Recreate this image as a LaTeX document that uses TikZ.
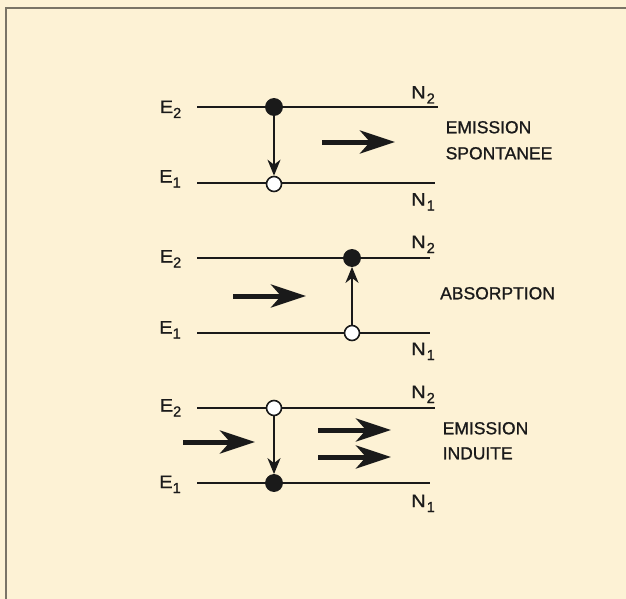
\documentclass[tikz,border=0pt]{standalone}
\usepackage{fontspec}
\setmainfont[FakeBold=1]{Liberation Sans}
\usetikzlibrary{arrows.meta}
\definecolor{bg}{HTML}{FDF2D5}
\definecolor{framec}{HTML}{7A7466}
\definecolor{ink}{HTML}{1A1A1A}
\newcommand\lsub[1]{\raisebox{-5pt}{\fontsize{14.5}{14}\selectfont #1}}
\newcommand\wide[1]{\scalebox{1.12}[1]{#1}}
\begin{document}
\begin{tikzpicture}[x=1pt,y=-1pt,
  level/.style={draw=ink,line width=1.6pt},
  full/.style={circle,fill=ink,draw=ink,line width=0.8pt,inner sep=0pt,minimum size=17pt},
  hollow/.style={circle,fill=white,draw=ink,line width=1.6pt,inner sep=0pt,minimum size=15pt},
  trans/.style={draw=ink,line width=2pt,-{Stealth[length=16pt,width=13pt,inset=5pt]}},
  photon/.style={draw=ink,line width=5pt,-{Stealth[length=35pt,width=23pt,inset=10pt]}},
  lbl/.style={anchor=base west,inner sep=0pt,text=ink,font=\fontsize{18}{20}\selectfont},
  title/.style={anchor=base west,inner sep=0pt,text=ink,font=\fontsize{17.5}{21}\selectfont}]
\fill[bg] (0,0) rectangle (626,599);
\useasboundingbox (0,0) rectangle (626,599);
\coordinate (fa) at (5.7,599);
\coordinate (fb) at (5.7,8.3);
\coordinate (fc) at (626,8.3);
\draw[framec,line width=2pt] (fa) -- (fb) -- (fc);

% ---- diagram 1: emission spontanee
\coordinate (a2l) at (197,107); \coordinate (a2r) at (438,107);
\coordinate (a1l) at (197,183); \coordinate (a1r) at (435,183);
\draw[level] (a2l) -- (a2r);
\draw[level] (a1l) -- (a1r);
\node[full] (a2) at (274,107) {};
\node[hollow] (a1) at (274,184) {};
\draw[trans] (a2) -- (a1);
\coordinate (pa1) at (322,142); \coordinate (pa2) at (395,142);
\draw[photon] (pa1) -- (pa2);
\node[lbl] (ae2) at (159.5,113) {\wide{E}\lsub{2}};
\node[lbl] (ae1) at (159,182.5) {\wide{E}\lsub{1}};
\node[lbl] (an2) at (411,98.5) {\wide{N}\kern1pt\lsub{2}};
\node[lbl] (an1) at (411,205.5) {\wide{N}\kern1pt\lsub{1}};
\node[title] (at1) at (445.5,133.3) {EMISSION};
\node[title] (at2) at (445.5,159.3) {SPONTANEE};

% ---- diagram 2: absorption
\coordinate (b2l) at (197,258); \coordinate (b2r) at (430,258);
\coordinate (b1l) at (197,333); \coordinate (b1r) at (430,333);
\draw[level] (b2l) -- (b2r);
\draw[level] (b1l) -- (b1r);
\node[full] (b2) at (352,258) {};
\node[hollow] (b1) at (352,333) {};
\draw[trans] (b1) -- (b2);
\coordinate (pb1) at (233,296); \coordinate (pb2) at (306,296);
\draw[photon] (pb1) -- (pb2);
\node[lbl] (be2) at (159.5,262.5) {\wide{E}\lsub{2}};
\node[lbl] (be1) at (159,333.5) {\wide{E}\lsub{1}};
\node[lbl] (bn2) at (411,248) {\wide{N}\kern1pt\lsub{2}};
\node[lbl] (bn1) at (411,355) {\wide{N}\kern1pt\lsub{1}};
\node[title] (bt1) at (440,299.3) {ABSORPTION};

% ---- diagram 3: emission induite
\coordinate (c2l) at (197,408); \coordinate (c2r) at (435,408);
\coordinate (c1l) at (197,483); \coordinate (c1r) at (430,483);
\draw[level] (c2l) -- (c2r);
\draw[level] (c1l) -- (c1r);
\node[hollow] (c2) at (274,408) {};
\node[full] (c1) at (274,483) {};
\draw[trans] (c2) -- (c1);
\coordinate (pc1) at (183,442); \coordinate (pc2) at (255,442);
\draw[photon] (pc1) -- (pc2);
\coordinate (pd1) at (318,430); \coordinate (pd2) at (391,430);
\draw[photon] (pd1) -- (pd2);
\coordinate (pe1) at (318,457); \coordinate (pe2) at (391,457);
\draw[photon] (pe1) -- (pe2);
\node[lbl] (ce2) at (159.5,411.5) {\wide{E}\lsub{2}};
\node[lbl] (ce1) at (159,488) {\wide{E}\lsub{1}};
\node[lbl] (cn2) at (411,398) {\wide{N}\kern1pt\lsub{2}};
\node[lbl] (cn1) at (411,507) {\wide{N}\kern1pt\lsub{1}};
\node[title] (ct1) at (442.5,434.3) {EMISSION};
\node[title] (ct2) at (442.5,459.3) {INDUITE};
\end{tikzpicture}
\end{document}
